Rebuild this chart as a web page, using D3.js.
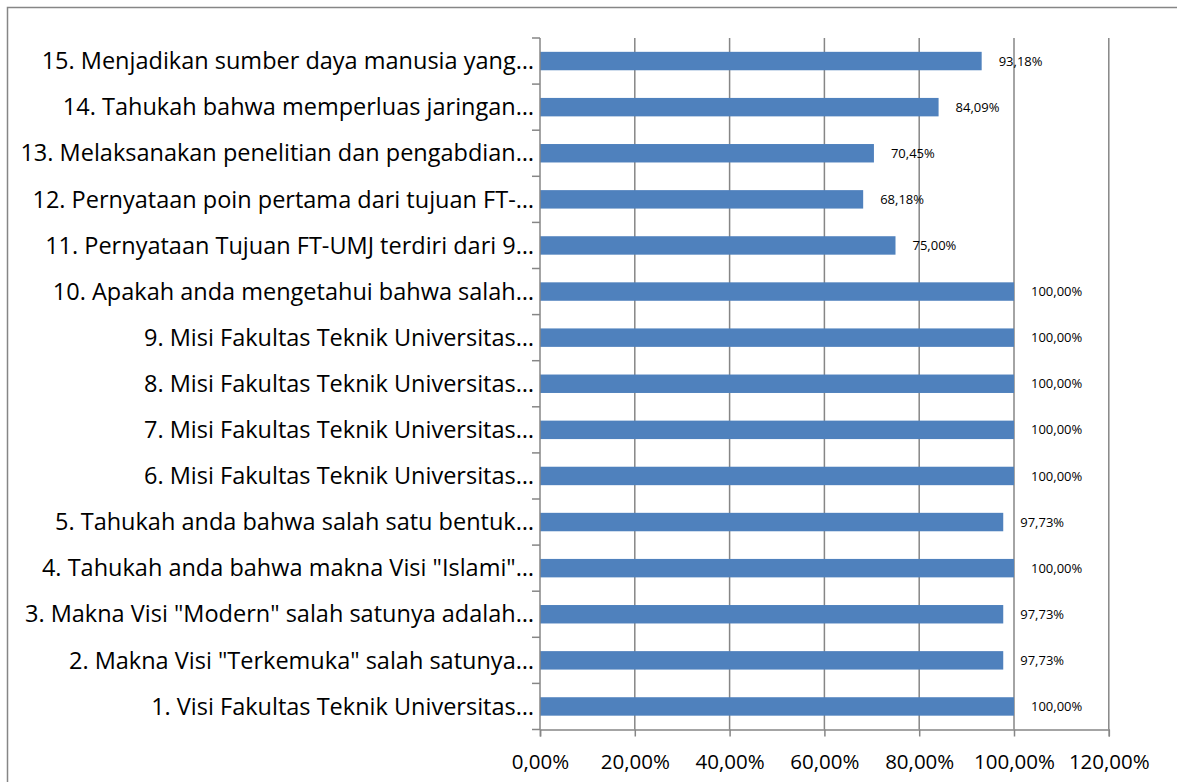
<!DOCTYPE html>
<html>
<head>
<meta charset="utf-8">
<script src="https://cdn.jsdelivr.net/npm/d3@7"></script>
<style>
  body { margin: 0; background: #fff; }
  svg { display: block; font-family: "Open Sans", sans-serif; }
</style>
</head>
<body>
<svg id="chart" width="1177" height="782"></svg>
<script>
// questions, bottom (1) to top (15)
const categories = [
  "1. Visi Fakultas Teknik Universitas…",
  "2. Makna Visi \"Terkemuka\" salah satunya…",
  "3. Makna Visi \"Modern\" salah satunya adalah…",
  "4. Tahukah anda bahwa makna Visi \"Islami\"…",
  "5. Tahukah anda bahwa salah satu bentuk…",
  "6. Misi Fakultas Teknik Universitas…",
  "7. Misi Fakultas Teknik Universitas…",
  "8. Misi Fakultas Teknik Universitas…",
  "9. Misi Fakultas Teknik Universitas…",
  "10. Apakah anda mengetahui bahwa salah…",
  "11. Pernyataan Tujuan FT-UMJ terdiri dari 9…",
  "12. Pernyataan poin pertama dari tujuan FT-…",
  "13. Melaksanakan penelitian dan pengabdian…",
  "14. Tahukah bahwa memperluas jaringan…",
  "15. Menjadikan sumber daya manusia yang…"
];
const values = [100, 97.73, 97.73, 100, 97.73, 100, 100, 100, 100, 100, 75, 68.18, 70.45, 84.09, 93.18];
const ticks = [0, 20, 40, 60, 80, 100, 120];

const svg = d3.select("#chart");
const fmt = v => v.toFixed(2).replace(".", ",") + "%";

// chart border
svg.append("rect")
  .attr("x", 7.5).attr("y", 7.5)
  .attr("width", 1177).attr("height", 800)
  .attr("fill", "none")
  .attr("stroke", "#868686")
  .attr("stroke-width", 1.5);

const pLeft = 540, pRight = 1108.8, pTop = 38, pBottom = 729.5;

const x = d3.scaleLinear().domain([0, 120]).range([pLeft, pRight]);
const y = d3.scaleBand()
  .domain(d3.range(categories.length).reverse())
  .range([pTop, pBottom])
  .paddingInner(0.6)
  .paddingOuter(0.3);

// gridlines
svg.append("g")
  .selectAll("line")
  .data(ticks.slice(1))
  .join("line")
  .attr("x1", d => x(d)).attr("x2", d => x(d))
  .attr("y1", pTop).attr("y2", pBottom)
  .attr("stroke", "#868686")
  .attr("stroke-width", 1.5);

// bars
svg.append("g")
  .selectAll("rect")
  .data(values)
  .join("rect")
  .attr("x", pLeft)
  .attr("y", (d, i) => y(i))
  .attr("width", d => x(d) - pLeft)
  .attr("height", y.bandwidth())
  .attr("fill", "#4F81BD");

// value labels
svg.append("g")
  .selectAll("text")
  .data(values)
  .join("text")
  .attr("x", d => x(d) + 17)
  .attr("y", (d, i) => y(i) + y.bandwidth() / 2)
  .attr("dy", "0.35em")
  .attr("font-size", 13)
  .attr("fill", "#000")
  .text(d => fmt(d));

// x axis
const xAxis = svg.append("g")
  .attr("transform", `translate(0,${pBottom})`)
  .call(d3.axisBottom(x).tickValues(ticks).tickFormat(d => fmt(d))
    .tickSize(7).tickPadding(18));
xAxis.select(".domain").attr("stroke", "#868686").attr("stroke-width", 1.5);
xAxis.selectAll(".tick line").attr("stroke", "#868686").attr("stroke-width", 1.5);
xAxis.selectAll(".tick text").attr("font-size", 20.5).attr("fill", "#000")
  .attr("font-family", "'Open Sans', sans-serif");

// y axis: category separators
const step = (pBottom - pTop) / categories.length;
const yAxis = svg.append("g");
yAxis.append("line")
  .attr("x1", pLeft).attr("x2", pLeft)
  .attr("y1", pTop).attr("y2", pBottom)
  .attr("stroke", "#868686").attr("stroke-width", 1.5);
yAxis.selectAll("line.sep")
  .data(d3.range(categories.length + 1))
  .join("line")
  .attr("class", "sep")
  .attr("x1", pLeft - 8).attr("x2", pLeft)
  .attr("y1", d => pTop + d * step).attr("y2", d => pTop + d * step)
  .attr("stroke", "#868686").attr("stroke-width", 1.5);

yAxis.selectAll("text")
  .data(categories)
  .join("text")
  .attr("x", pLeft - 6)
  .attr("y", (d, i) => y(i) + y.bandwidth() / 2)
  .attr("dy", "0.35em")
  .attr("text-anchor", "end")
  .attr("font-size", 23.5)
  .attr("fill", "#000")
  .text(d => d);
</script>
</body>
</html>
